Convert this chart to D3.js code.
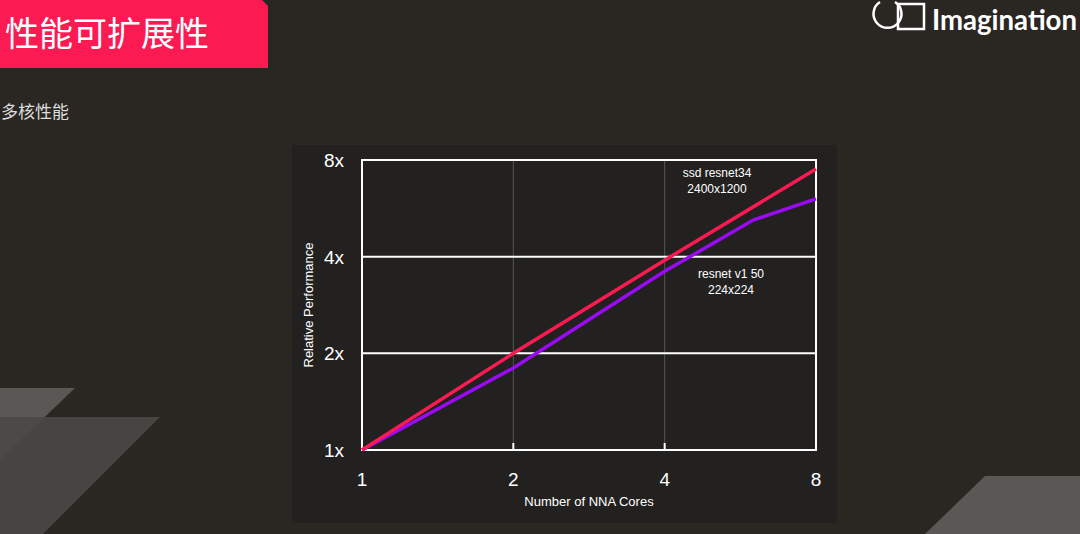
<!DOCTYPE html>
<html><head><meta charset="utf-8">
<script src="https://cdn.jsdelivr.net/npm/d3@7"></script>
<style>body{margin:0;background:#2a2723;overflow:hidden}</style>
</head><body>
<svg id="c" width="1080" height="534"></svg>
<script>
var cores = [1, 2, 4, 8];
var ssdCores = [1, 2, 4, 8];
var ssdValues = [1, 2, 3.9, 7.5];
var resnetCores = [1, 2, 4, 6, 8];
var resnetValues = [1, 1.8, 3.6, 5.2, 6.05];
var yTicks = [1, 2, 4, 8];

var svg = d3.select("#c");
svg.append("rect").attr("width", 1080).attr("height", 534).attr("fill", "#2a2723");

// decoration
svg.append("polygon").attr("points", "0,388 75,388 0,460").attr("fill", "#5a5855");
svg.append("polygon").attr("points", "0,417 160,417 43,534 0,534").attr("fill", "#4a4845").attr("opacity", 0.9);
svg.append("polygon").attr("points", "925,534 985,476 1080,476 1080,534").attr("fill", "#5a5855");

// title banner
svg.append("polygon").attr("points", "0,0 262,0 268,6 268,68 0,68").attr("fill", "#fb1a52");
svg.append("text").attr("x", 5).attr("y", 46).attr("fill", "#fff")
  .style("font-family", "Noto Sans CJK SC").style("font-size", "34px").text("性能可扩展性");
svg.append("text").attr("x", 1).attr("y", 118).attr("fill", "#ddd")
  .style("font-family", "Noto Sans CJK SC").style("font-size", "17px").text("多核性能");

// logo
var logo = svg.append("g").attr("fill", "none").attr("stroke", "#fff").attr("stroke-width", 2.5);
logo.append("path").attr("d", "M895,2 A14,14 0 1 1 880,2");
logo.append("rect").attr("x", 898).attr("y", 4).attr("width", 26).attr("height", 25);
svg.append("text").attr("x", 932).attr("y", 30).attr("fill", "#fff")
  .attr("textLength", 145).attr("lengthAdjust", "spacingAndGlyphs")
  .style("font-family", "Lato").style("font-weight", "bold").style("font-size", "28px").text("Imagination");

// chart panel
svg.append("rect").attr("x", 292).attr("y", 145).attr("width", 545).attr("height", 378).attr("fill", "#22211f");

var x = d3.scaleLog().base(2).domain([1, 8]).range([362, 816]);
var y = d3.scaleLog().base(2).domain([1, 8]).range([450, 160]);

var g = svg.append("g");
g.selectAll(".vg").data([2, 4]).enter().append("line")
  .attr("x1", d => x(d)).attr("x2", d => x(d)).attr("y1", 160).attr("y2", 450)
  .attr("stroke", "#555").attr("stroke-width", 1);
g.selectAll(".hg").data([2, 4]).enter().append("line")
  .attr("x1", 362).attr("x2", 816).attr("y1", d => y(d)).attr("y2", d => y(d))
  .attr("stroke", "#fff").attr("stroke-width", 2);
g.append("rect").attr("x", 362).attr("y", 160).attr("width", 454).attr("height", 290)
  .attr("fill", "none").attr("stroke", "#fff").attr("stroke-width", 2);
g.selectAll(".tk").data([2, 4]).enter().append("line")
  .attr("x1", d => x(d)).attr("x2", d => x(d)).attr("y1", 443).attr("y2", 450)
  .attr("stroke", "#fff").attr("stroke-width", 2);

g.selectAll(".xl").data(cores).enter().append("text")
  .attr("x", d => x(d)).attr("y", 486).attr("text-anchor", "middle").attr("fill", "#fff")
  .style("font-family", "Liberation Sans").style("font-size", "19px").text(d => d);
g.selectAll(".yl").data(yTicks).enter().append("text")
  .attr("x", 344).attr("y", d => y(d) + 7).attr("text-anchor", "end").attr("fill", "#fff")
  .style("font-family", "Liberation Sans").style("font-size", "19px").text(d => d + "x");

g.append("text").attr("x", 589).attr("y", 506).attr("text-anchor", "middle").attr("fill", "#fff")
  .style("font-family", "Liberation Sans").style("font-size", "13px").text("Number of NNA Cores");
g.append("text").attr("transform", "translate(313,305) rotate(-90)").attr("text-anchor", "middle").attr("fill", "#fff")
  .style("font-family", "Liberation Sans").style("font-size", "13px").text("Relative Performance");

var line = d3.line().x(d => x(d[0])).y(d => y(d[1]));
g.append("path").datum(d3.zip(resnetCores, resnetValues)).attr("d", line)
  .attr("fill", "none").attr("stroke", "#9b0af5").attr("stroke-width", 3.5);
g.append("path").datum(d3.zip(ssdCores, ssdValues)).attr("d", line)
  .attr("fill", "none").attr("stroke", "#fb1a52").attr("stroke-width", 3.5);

var lab = function(t, xx, yy) {
  g.append("text").attr("x", xx).attr("y", yy).attr("text-anchor", "middle").attr("fill", "#fff")
    .style("font-family", "Liberation Sans").style("font-size", "12px").text(t);
};
lab("ssd resnet34", 717, 177);
lab("2400x1200", 717, 193);
lab("resnet v1 50", 731, 278);
lab("224x224", 731, 294);
</script>
</body></html>
